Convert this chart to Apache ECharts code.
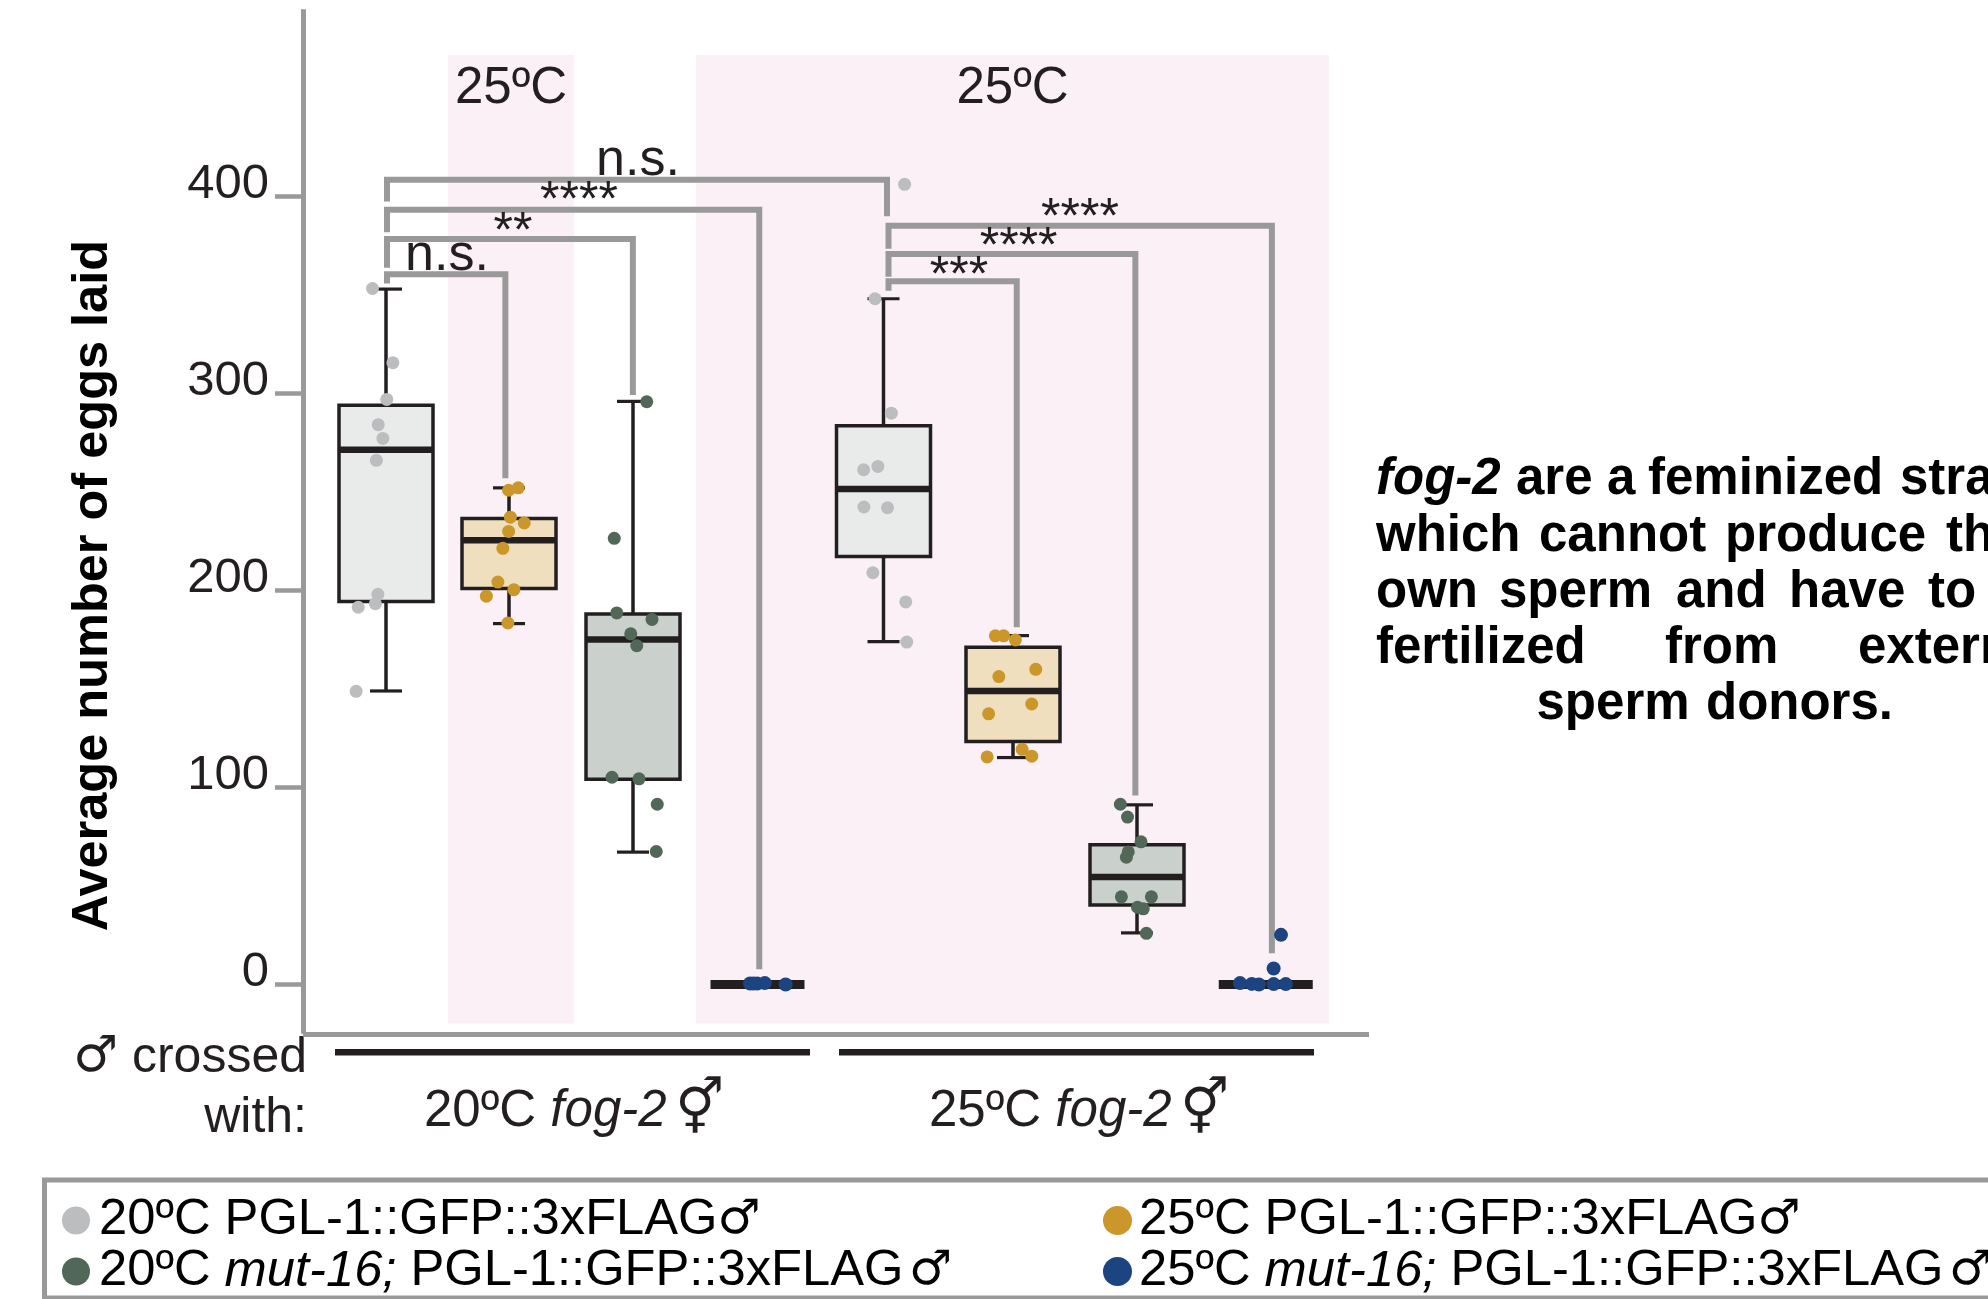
<!DOCTYPE html>
<html>
<head>
<meta charset="utf-8">
<style>html,body{margin:0;padding:0;background:#fff;overflow:hidden}#c{width:1988px;height:1299px}</style>
<script src="https://cdn.jsdelivr.net/npm/echarts@6/dist/echarts.min.js"></script>
</head>
<body>
<div id="c"></div>
<script>
// Box statistics: [group position, low whisker, Q1, median, Q3, high whisker]
const boxGrey20 = [[0, 149, 194.4, 271.5, 294, 353], [3.98, 174, 217.2, 251.5, 283.6, 348.1]];
const boxGold25 = [[0.984, 183.2, 201, 225.5, 236.6, 252.1], [5.016, 115.2, 123.3, 149, 171.2, 177.1]];
const boxGreen20 = [[1.976, 67.2, 104.2, 175.1, 188.1, 296], [6.008, 26.2, 40.4, 54.6, 70.9, 91.2]];
const boxBlue25 = [[2.972, 0, 0, 0, 0, 0], [7.038, 0, 0, 0, 0, 0]];

// Individual points: [position including jitter, eggs laid]
const ptsGrey20 = [[-0.108,353.3],[0.055,315.6],[0.006,297],[-0.062,284.2],[-0.025,277.2],[-0.077,266.1],[-0.065,198.1],[-0.085,193.3],[-0.222,191.5],[-0.239,148.8],
  [4.149,406.2],[3.912,348.1],[4.043,290],[3.935,263],[3.821,261.3],[3.823,242.4],[4.012,242],[3.895,209],[4.158,194.2],[4.166,173.8]];
const ptsGold25 = [[0.981,250.9],[1.058,252.1],[0.995,237.2],[1.106,234.3],[0.981,230],[0.935,221.4],[0.895,204.3],[1.023,200.4],[0.803,197.1],[0.975,183.5],
  [4.875,177],[4.941,177],[5.035,174.9],[5.198,160],[4.903,156.3],[5.166,142.4],[4.821,137.4],[5.089,119.4],[5.166,115.9],[4.809,115.5]];
const ptsGreen20 = [[2.086,295.8],[1.826,226.5],[1.846,188.6],[2.128,185.3],[1.958,178],[2.006,172],[1.808,105.2],[2.024,104.4],[2.17,91.5],[2.162,67.5],
  [5.875,91.5],[5.932,85],[6.04,72.4],[5.938,67.3],[5.923,64.6],[5.883,44.5],[6.123,44.5],[6.012,39.2],[6.058,38.4],[6.083,26]];
const ptsBlue25 = [[2.912,0.5],[2.94,0.5],[2.97,0.5],[3.03,0.7],[3.197,0],
  [7.16,25.2],[7.101,8.1],[6.832,0.7],[6.926,0.3],[6.983,0],[7.101,0.2],[7.198,0.2]];

// Significance brackets: [x left, left foot, top, x right, right foot]
const brackets = [
  [0.008, 397.4, 408.5, 4.008, 390],
  [0.008, 381.9, 393.3, 2.986, 7.8],
  [0.008, 363.8, 378.4, 1.975, 299.3],
  [0.008, 355.9, 360.5, 0.955, 257],
  [4.02, 373.5, 385.2, 7.087, 15.9],
  [4.02, 359.3, 370.8, 5.995, 95.9],
  [4.02, 352.2, 357, 5.046, 181.4]
];
const bracketLabels = [
  [2.016, 418, 'n.s.'], [1.544, 397, '****'], [1.016, 381.4, '**'], [0.488, 370, 'n.s.'],
  [5.552, 388.3, '****'], [5.061, 373.9, '****'], [4.584, 359.1, '***']
];
const tempPanels = [[0.496, 1.504, '25ºC'], [2.48, 7.544, '25ºC']];
const panelTop = 471.8, panelBottom = -19.8;
const yTicks = [0, 100, 200, 300, 400];

const legendNames = ['20ºC PGL-1::GFP::3xFLAG', '20ºC mut-16; PGL-1::GFP::3xFLAG', '25ºC PGL-1::GFP::3xFLAG', '25ºC mut-16; PGL-1::GFP::3xFLAG'];
const sideWords = [
  [1376, 492, 'fog-2', true], [1516, 492, 'are'], [1607, 492, 'a'], [1648, 492, 'feminized'], [1900, 492, 'strain'],
  [1376, 549, 'which'], [1539, 549, 'cannot'], [1725, 549, 'produce'], [1946, 549, 'their'],
  [1376, 605, 'own'], [1499, 605, 'sperm'], [1676, 605, 'and'], [1789, 605, 'have'], [1928, 605, 'to'],
  [1376, 661, 'fertilized'], [1665, 661, 'from'], [1858, 661, 'external'],
  [1536.5, 717, 'sperm'], [1706, 717, 'donors.']
];

const SANS = '"Liberation Sans", Arial, sans-serif';
const INK = '#231f20', RULE = '#999999';

function boxRender(fill) {
  return function (params, api) {
    const x = api.value(0);
    const low = api.coord([x, api.value(1)]);
    const q1 = api.coord([x, api.value(2)]);
    const med = api.coord([x, api.value(3)]);
    const q3 = api.coord([x, api.value(4)]);
    const high = api.coord([x, api.value(5)]);
    const half = 47, cap = 16, cx = low[0];
    const flat = api.value(2) === api.value(4);
    const line = (x1, y1, x2, y2, w) => ({
      type: 'line', shape: { x1, y1, x2, y2 }, style: { stroke: INK, lineWidth: w, fill: null }
    });
    const kids = [];
    if (!flat) {
      kids.push(line(cx, high[1], cx, q3[1], 3.5), line(cx, low[1], cx, q1[1], 3.5));
      kids.push(line(cx - cap, high[1], cx + cap, high[1], 3.2), line(cx - cap, low[1], cx + cap, low[1], 3.2));
      kids.push({
        type: 'rect', shape: { x: cx - half, y: q3[1], width: half * 2, height: q1[1] - q3[1] },
        style: { fill, stroke: INK, lineWidth: 3.5 }
      });
    }
    kids.push(line(cx - half, med[1], cx + half, med[1], flat ? 9 : 6.5));
    return { type: 'group', children: kids };
  };
}
function boxSeries(name, data, fill) {
  return { type: 'custom', name, data, renderItem: boxRender(fill), clip: false, z: 3, silent: true, animation: false,
    encode: { x: 0, y: [1, 2, 3, 4, 5] } };
}
function ptsSeries(name, data, color, r) {
  return { type: 'scatter', name, data, symbol: 'circle', symbolSize: r, itemStyle: { color, opacity: 1 }, z: 4, clip: false, silent: true, animation: false };
}

const option = {
  animation: false,
  backgroundColor: '#ffffff',
  grid: { left: 303, right: 619, top: 9.35, bottom: 265.25, containLabel: false },
  xAxis: {
    type: 'value', min: -0.664, max: 7.864, splitLine: { show: false },
    axisTick: { show: false }, axisLabel: { show: false },
    axisLine: { show: true, onZero: false, lineStyle: { color: RULE, width: 5, cap: 'butt' } }
  },
  yAxis: {
    type: 'value', min: -25, max: 495, interval: 25, splitLine: { show: false },
    axisLine: { show: true, onZero: false, lineStyle: { color: RULE, width: 5, cap: 'butt' } },
    axisTick: { show: true, customValues: yTicks, length: 28, lineStyle: { color: RULE, width: 4.5 } },
    axisLabel: { customValues: yTicks, margin: 34, fontSize: 49, fontFamily: SANS, color: INK, verticalAlign: 'bottom', lineHeight: 24 },
    name: 'Average number of eggs laid', nameLocation: 'middle', nameGap: 209.5,
    nameTextStyle: { fontSize: 50.5, fontWeight: 'bold', fontFamily: SANS, color: '#000', padding: [0, 128, 0, 0], verticalAlign: 'middle' }
  },
  legend: [
    { left: 62, top: 1195, orient: 'vertical', padding: 0, itemGap: 0, itemWidth: 28, itemHeight: 28, icon: 'circle', selectedMode: false,
      data: [legendNames[0], legendNames[1]], formatter: legendFormat, textStyle: legendText(4) },
    { left: 1103, top: 1195, orient: 'vertical', padding: 0, itemGap: 0, itemWidth: 29, itemHeight: 29, icon: 'circle', selectedMode: false,
      data: [legendNames[2], legendNames[3]], formatter: legendFormat, textStyle: legendText(2) }
  ],
  series: [
    { type: 'line', name: 'panels', data: [], z: 1, silent: true, animation: false,
      markArea: {
        silent: true, animation: false, itemStyle: { color: '#fbf0f6' },
        label: { show: true, position: 'insideTop', distance: 8, fontSize: 51, fontFamily: SANS, color: INK },
        data: tempPanels.map(p => [{ name: p[2], coord: [p[0], panelTop] }, { coord: [p[1], panelBottom] }])
      } },
    { type: 'custom', name: 'brackets', data: brackets, clip: false, z: 2, silent: true, animation: false,
      encode: { x: [0, 3], y: [1, 2, 4] },
      renderItem(params, api) {
        const xl = api.value(0), xr = api.value(3), top = api.value(2);
        const pts = [[xl, api.value(1)], [xl, top], [xr, top], [xr, api.value(4)]].map(p => api.coord(p));
        return { type: 'polyline', shape: { points: pts }, style: { stroke: RULE, lineWidth: 6, fill: null, lineJoin: 'miter', lineCap: 'butt' } };
      } },
    boxSeries('box grey', boxGrey20, '#e9ebeb'),
    boxSeries('box gold', boxGold25, '#f0dfbe'),
    boxSeries('box green', boxGreen20, '#cad0cc'),
    boxSeries('box blue', boxBlue25, '#ffffff'),
    ptsSeries(legendNames[0], ptsGrey20, '#bbbdbf', 13),
    ptsSeries(legendNames[2], ptsGold25, '#cb962a', 13),
    ptsSeries(legendNames[1], ptsGreen20, '#516858', 13),
    ptsSeries(legendNames[3], ptsBlue25, '#1c4480', 14),
    { type: 'custom', name: 'significance', data: bracketLabels.map(d => [d[0], d[1]]), clip: false, z: 5, silent: true, animation: false,
      encode: { x: 0, y: 1 },
      renderItem(params, api) {
        const p = api.coord([api.value(0), api.value(1)]);
        const t = bracketLabels[params.dataIndex][2];
        return { type: 'text', x: p[0], y: p[1],
          style: { text: t, fontSize: t === 'n.s.' ? 52 : 50, fontFamily: SANS, fill: INK, align: 'center', verticalAlign: 'middle' } };
      } }
  ],
  graphic: { elements: [
    { type: 'rect', z: 0, shape: { x: 335, y: 1049, width: 475, height: 6.5 }, style: { fill: INK } },
    { type: 'rect', z: 0, shape: { x: 839, y: 1049, width: 475, height: 6.5 }, style: { fill: INK } },
    { type: 'rect', z: 0, shape: { x: 44.5, y: 1180, width: 2100, height: 118 }, style: { fill: 'none', stroke: RULE, lineWidth: 5 } },
    { type: 'text', x: 307, y: 1058, style: { text: '{g|♂}{t| crossed}', align: 'right', verticalAlign: 'middle', rich: { g: { font: '50px "DejaVu Sans"', fill: INK }, t: { font: '50px ' + SANS, fill: INK } } } },
    { type: 'text', x: 307, y: 1118, style: { text: 'with:', font: '50px ' + SANS, fill: INK, align: 'right', verticalAlign: 'middle' } },
    groupLabel(424, '20ºC'),
    groupLabel(929, '25ºC')
  ].concat(sideWords.map(w => ({
    type: 'text', x: w[0], y: w[1] - 12,
    style: { text: w[2], font: (w[3] ? 'italic ' : '') + 'bold 51px ' + SANS, fill: '#000', align: 'left', verticalAlign: 'middle' }
  }))) }
};

function groupLabel(x, t) {
  return { type: 'text', x, y: 1112, style: {
    text: '{t|' + t + ' }{i|fog-2}{s| }{g|⚥}', align: 'left', verticalAlign: 'middle',
    rich: { t: { font: '51px ' + SANS, fill: INK }, i: { font: 'italic 51px ' + SANS, fill: INK }, s: { font: '32px ' + SANS, fill: INK }, g: { font: '54px "DejaVu Sans"', fill: INK } }
  } };
}
function legendFormat(name) {
  const i = name.indexOf('mut-16;');
  if (i < 0) return '{f|' + name + '}{g|♂}';
  return '{f|' + name.slice(0, i) + '}{i|mut-16;}{n|' + name.slice(i + 7) + '}{s| }{g|♂}';
}
function legendText(pad) {
  const base = { fontSize: 50.7, fontFamily: SANS, color: '#000', lineHeight: 52 };
  return { rich: {
    f: Object.assign({}, base, { padding: [0, 0, 0, pad] }),
    n: base,
    i: Object.assign({}, base, { fontStyle: 'italic' }),
    s: { fontSize: 20, fontFamily: SANS, color: '#000', lineHeight: 52 },
    g: { fontSize: 48, fontFamily: '"DejaVu Sans"', color: '#000', lineHeight: 52 }
  } };
}

const chart = echarts.init(document.getElementById('c'), null, { renderer: 'canvas', width: 1988, height: 1299 });
chart.setOption(option);
</script>
</body>
</html>
